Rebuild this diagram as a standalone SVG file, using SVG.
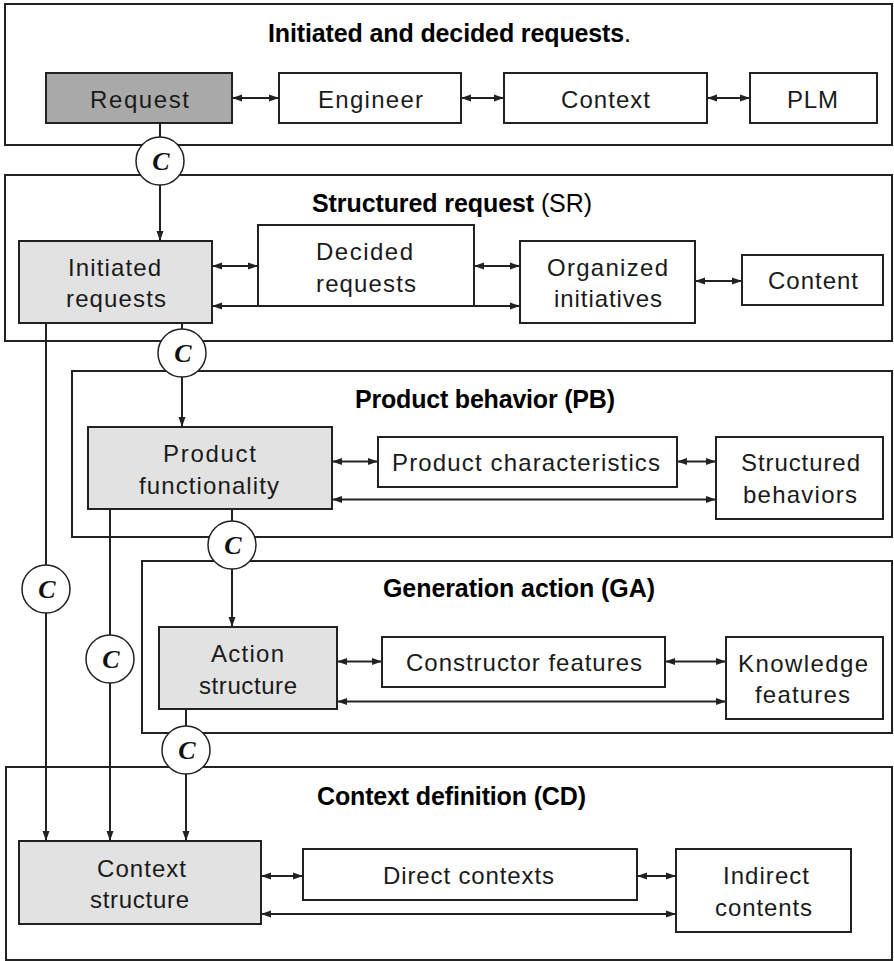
<svg xmlns="http://www.w3.org/2000/svg" width="894" height="961" viewBox="0 0 894 961">
<defs>
<style>
.panel{fill:#fff;stroke:#222;stroke-width:2}
.box{fill:#fff;stroke:#222;stroke-width:2}
.dark{fill:#a9a9a9}
.light{fill:#e2e2e2}
.lbl{font-family:"Liberation Sans",Arial,sans-serif;font-size:24px;fill:#1a1a1a}
.ttl{font-family:"Liberation Sans",Arial,sans-serif;font-size:25px;font-weight:bold;fill:#000}
.nb{font-weight:normal}
.ln{fill:none;stroke:#222;stroke-width:2}
.arr{marker-end:url(#ah)}
.dbl{marker-start:url(#ah);marker-end:url(#ah)}
.circ{fill:#fff;stroke:#222;stroke-width:1.5}
.c{font-family:"Liberation Serif","Times New Roman",serif;font-style:italic;font-weight:bold;font-size:26px;fill:#111;text-anchor:middle}
</style>
<marker id="ah" viewBox="0 0 10 8" refX="10" refY="4" markerWidth="10" markerHeight="8" markerUnits="userSpaceOnUse" orient="auto-start-reverse">
<path d="M0,0.5 L10,4 L0,7.5 z" fill="#222"/>
</marker>
</defs>
<rect width="894" height="961" fill="#fff"/>

<g id="panels">
<g id="panel-idr"><rect class="panel" x="5" y="4" width="887" height="141"/>
<text class="ttl" x="268" y="42" textLength="363">Initiated and decided requests<tspan class="nb">.</tspan></text></g>
<g id="panel-sr"><rect class="panel" x="5" y="175" width="887" height="166"/>
<text class="ttl" x="312" y="212" textLength="280">Structured request <tspan class="nb">(SR)</tspan></text></g>
<g id="panel-pb"><rect class="panel" x="72" y="371" width="820" height="166"/>
<text class="ttl" x="355" y="408" textLength="260">Product behavior (PB)</text></g>
<g id="panel-ga"><rect class="panel" x="142" y="561" width="750" height="172"/>
<text class="ttl" x="383" y="597" textLength="272">Generation action (GA)</text></g>
<g id="panel-cd"><rect class="panel" x="6" y="767" width="886" height="193"/>
<text class="ttl" x="317" y="805" textLength="269">Context definition (CD)</text></g>
</g>

<g id="connectors">
<line class="ln dbl" x1="232" y1="98" x2="279" y2="98"/>
<line class="ln dbl" x1="461" y1="98" x2="504" y2="98"/>
<line class="ln dbl" x1="707" y1="98" x2="750" y2="98"/>
<line class="ln" x1="160" y1="123" x2="160" y2="140"/>
<line class="ln arr" x1="160" y1="182" x2="160" y2="241"/>

<line class="ln dbl" x1="212" y1="266" x2="258" y2="266"/>
<line class="ln dbl" x1="474" y1="266" x2="520" y2="266"/>
<line class="ln dbl" x1="695" y1="281" x2="742" y2="281"/>
<line class="ln dbl" x1="212" y1="306" x2="520" y2="306"/>
<line class="ln" x1="182" y1="323" x2="182" y2="332"/>
<line class="ln arr" x1="182" y1="374" x2="182" y2="427"/>

<line class="ln dbl" x1="332" y1="461.5" x2="378" y2="461.5"/>
<line class="ln dbl" x1="677" y1="461.5" x2="716" y2="461.5"/>
<line class="ln dbl" x1="332" y1="499.5" x2="716" y2="499.5"/>
<line class="ln" x1="232" y1="509" x2="232" y2="524"/>
<line class="ln arr" x1="232" y1="566" x2="232" y2="627"/>

<line class="ln dbl" x1="337" y1="661.5" x2="382" y2="661.5"/>
<line class="ln dbl" x1="665" y1="661.5" x2="726" y2="661.5"/>
<line class="ln dbl" x1="337" y1="701.5" x2="726" y2="701.5"/>
<line class="ln" x1="186" y1="709" x2="186" y2="729"/>
<line class="ln arr" x1="186" y1="771" x2="186" y2="841"/>

<line class="ln arr" x1="46" y1="323" x2="46" y2="841"/>
<line class="ln arr" x1="110" y1="509" x2="110" y2="841"/>

<line class="ln dbl" x1="261" y1="876" x2="303" y2="876"/>
<line class="ln dbl" x1="637" y1="876" x2="676" y2="876"/>
<line class="ln dbl" x1="261" y1="914" x2="676" y2="914"/>
</g>

<g id="c1"><circle class="circ" cx="160" cy="161" r="24"/><text class="c" x="161" y="170">C</text></g>
<g id="c2"><circle class="circ" cx="182" cy="353" r="24"/><text class="c" x="183" y="362">C</text></g>
<g id="c3"><circle class="circ" cx="232" cy="545" r="24"/><text class="c" x="233" y="554">C</text></g>
<g id="c4"><circle class="circ" cx="46" cy="589" r="24"/><text class="c" x="47" y="598">C</text></g>
<g id="c5"><circle class="circ" cx="110" cy="659" r="24"/><text class="c" x="111" y="668">C</text></g>
<g id="c6"><circle class="circ" cx="186" cy="750" r="24"/><text class="c" x="187" y="759">C</text></g>

<g id="request"><rect class="box dark" x="46" y="73" width="186" height="50"/><text class="lbl" x="90" y="108" textLength="99">Request</text></g>
<g id="engineer"><rect class="box" x="279" y="73" width="182" height="50"/><text class="lbl" x="318" y="108" textLength="105">Engineer</text></g>
<g id="context"><rect class="box" x="504" y="73" width="203" height="50"/><text class="lbl" x="561" y="108" textLength="89">Context</text></g>
<g id="plm"><rect class="box" x="750" y="73" width="127" height="50"/><text class="lbl" x="787" y="108" textLength="51">PLM</text></g>

<g id="initiated-requests"><rect class="box light" x="19" y="241" width="193" height="82"/>
<text class="lbl" x="68" y="276" textLength="93">Initiated</text><text class="lbl" x="66" y="307" textLength="100">requests</text></g>
<g id="decided-requests"><rect class="box" x="258" y="225" width="216" height="81"/>
<text class="lbl" x="316" y="260" textLength="97">Decided</text><text class="lbl" x="316" y="292" textLength="100">requests</text></g>
<g id="organized-initiatives"><rect class="box" x="520" y="241" width="175" height="82"/>
<text class="lbl" x="547" y="276" textLength="121">Organized</text><text class="lbl" x="554" y="307" textLength="108">initiatives</text></g>
<g id="content"><rect class="box" x="742" y="255" width="141" height="50"/><text class="lbl" x="768" y="289" textLength="90">Content</text></g>

<g id="product-functionality"><rect class="box light" x="88" y="427" width="244" height="82"/>
<text class="lbl" x="163" y="462" textLength="93">Product</text><text class="lbl" x="139" y="494" textLength="140">functionality</text></g>
<g id="product-characteristics"><rect class="box" x="378" y="437" width="299" height="50"/><text class="lbl" x="392" y="471" textLength="268">Product characteristics</text></g>
<g id="structured-behaviors"><rect class="box" x="716" y="437" width="167" height="82"/>
<text class="lbl" x="741" y="471" textLength="119">Structured</text><text class="lbl" x="743" y="503" textLength="114">behaviors</text></g>

<g id="action-structure"><rect class="box light" x="159" y="627" width="178" height="82"/>
<text class="lbl" x="211" y="662" textLength="73">Action</text><text class="lbl" x="199" y="694" textLength="98">structure</text></g>
<g id="constructor-features"><rect class="box" x="382" y="637" width="283" height="50"/><text class="lbl" x="406" y="671" textLength="236">Constructor features</text></g>
<g id="knowledge-features"><rect class="box" x="726" y="637" width="157" height="82"/>
<text class="lbl" x="738" y="672" textLength="130">Knowledge</text><text class="lbl" x="755" y="703" textLength="95">features</text></g>

<g id="context-structure"><rect class="box light" x="19" y="841" width="242" height="83"/>
<text class="lbl" x="97" y="877" textLength="89">Context</text><text class="lbl" x="90" y="908" textLength="99">structure</text></g>
<g id="direct-contexts"><rect class="box" x="303" y="849" width="334" height="51"/><text class="lbl" x="383" y="884" textLength="171">Direct contexts</text></g>
<g id="indirect-contents"><rect class="box" x="676" y="849" width="175" height="83"/>
<text class="lbl" x="723" y="884" textLength="86">Indirect</text><text class="lbl" x="715" y="916" textLength="97">contents</text></g>
</svg>
